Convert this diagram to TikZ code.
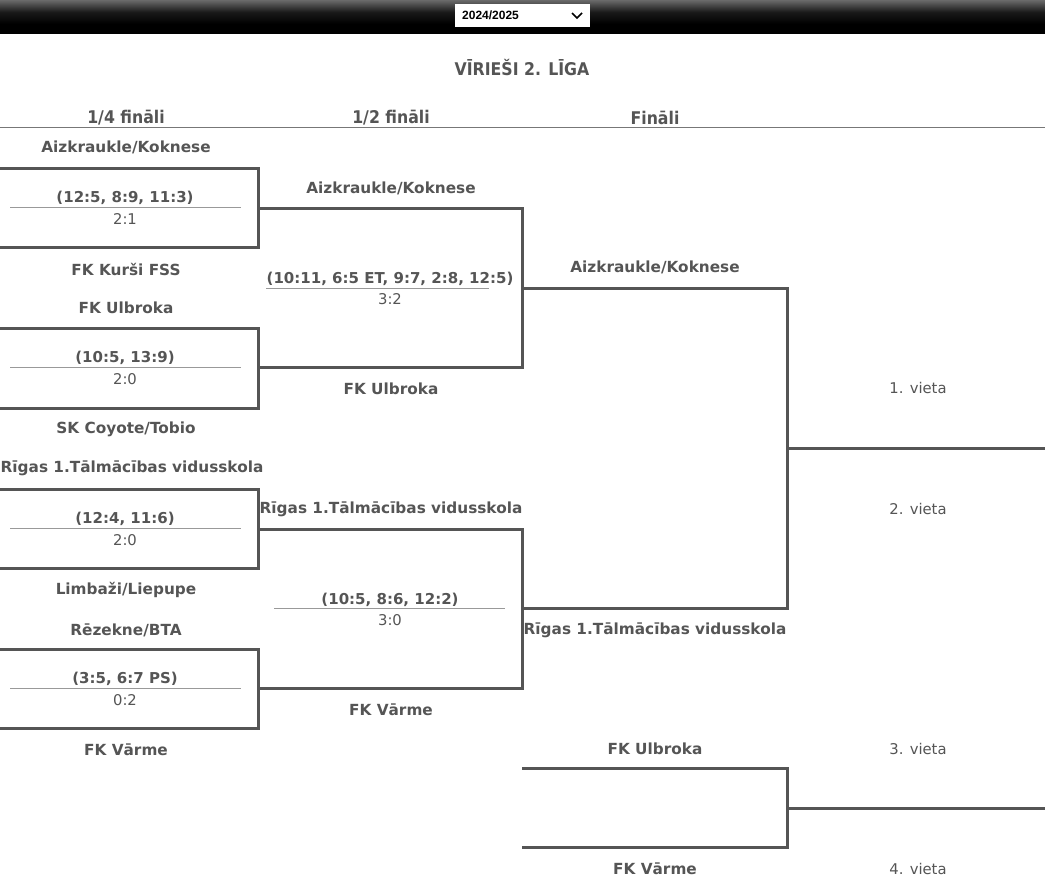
\documentclass[tikz,border=0pt]{standalone}
\usepackage{fontspec}
\setmainfont{DejaVu Sans}
\newfontfamily\condfont{DejaVu Sans Condensed}
\newfontfamily\arialfont{Liberation Sans}
\usetikzlibrary{positioning}
\definecolor{ink}{HTML}{555555}
\definecolor{rule}{HTML}{999999}
\definecolor{bartop}{HTML}{6A6A6A}
\tikzset{
  team/.style={font=\fontsize{15.3}{17}\selectfont\bfseries, text=ink, inner sep=0pt, anchor=center},
  score/.style={font=\fontsize{15}{17}\selectfont\bfseries, text=ink, inner sep=0pt},
  result/.style={font=\fontsize{14.8}{17}\selectfont, text=ink, inner sep=0pt},
  place/.style={font=\fontsize{14.8}{17}\selectfont, text=ink, inner sep=0pt},
  header/.style={font=\condfont\fontsize{17.5}{19}\selectfont\bfseries, text=ink, inner sep=0pt},
  bracket/.style={draw=ink, line width=3pt},
  scoreline/.style={draw=rule, line width=0.9pt},
  divider/.style={draw=ink!80, line width=1pt}
}
\begin{document}
\begin{tikzpicture}[x=1pt,y=-1pt]
\useasboundingbox (0,0) rectangle (1045,886);
\fill[white] (0,0) rectangle (1045,886);
% top bar
\shade[top color=bartop, bottom color=black, middle color=black!90] (0,0) rectangle (1045,24);
\fill[black] (0,23.5) rectangle (1045,34);
\node[fill=white, minimum width=135pt, minimum height=23pt, inner sep=0pt] (sel) at (522.5,15.5) {};
\node[font=\arialfont\fontsize{12}{14}\selectfont\bfseries, anchor=west, inner sep=0pt] (season) at (462,15.5) {2024/2025};
\coordinate (chevA) at (572,13);
\coordinate (chevB) at (577,18);
\coordinate (chevC) at (582,13);
\draw[line width=1.5pt] (chevA) -- (chevB) -- (chevC);

% title and headers
\node[header] (title) at (522,68) {VĪRIEŠI 2. LĪGA};
\node[header] (h1) at (126,118) {1/4 fināli};
\node[header] (h2) at (391,118) {1/2 fināli};
\node[header] (h3) at (655,118) {Fināli};
\coordinate (divL) at (0,127.5);
\coordinate (divR) at (1045,127.5);
\draw[divider] (divL) -- (divR);

% ---------- quarter finals ----------
% QF1
\coordinate (q1a) at (0,168); \coordinate (q1b) at (258,168);
\coordinate (q1c) at (258,247); \coordinate (q1d) at (0,247);
\draw[bracket] (q1a) -- (q1b) -- (q1c) -- (q1d);
\node[team] (q1t) at (126,147) {Aizkraukle/Koknese};
\node[team] (q1u) at (126,269) {FK Kurši FSS};
\node[score] (q1s) at (125,198) {(12:5, 8:9, 11:3)};
\coordinate (q1l) at (10,207.5); \coordinate (q1r) at (241,207.5);
\draw[scoreline] (q1l) -- (q1r);
\node[result] (q1r2) at (125,219.5) {2:1};
% QF2
\coordinate (q2a) at (0,328); \coordinate (q2b) at (258,328);
\coordinate (q2c) at (258,408); \coordinate (q2d) at (0,408);
\draw[bracket] (q2a) -- (q2b) -- (q2c) -- (q2d);
\node[team] (q2t) at (126,308) {FK Ulbroka};
\node[team] (q2u) at (126,429) {SK Coyote/Tobio};
\node[score] (q2s) at (125,358) {(10:5, 13:9)};
\coordinate (q2l) at (10,367.5); \coordinate (q2r) at (241,367.5);
\draw[scoreline] (q2l) -- (q2r);
\node[result] (q2r2) at (125,379.5) {2:0};
% QF3
\coordinate (q3a) at (0,489); \coordinate (q3b) at (258,489);
\coordinate (q3c) at (258,568); \coordinate (q3d) at (0,568);
\draw[bracket] (q3a) -- (q3b) -- (q3c) -- (q3d);
\node[team, anchor=west] (q3t) at (0.5,468) {Rīgas 1.Tālmācības vidusskola};
\node[team] (q3u) at (126,590) {Limbaži/Liepupe};
\node[score] (q3s) at (125,519) {(12:4, 11:6)};
\coordinate (q3l) at (10,528.5); \coordinate (q3r) at (241,528.5);
\draw[scoreline] (q3l) -- (q3r);
\node[result] (q3r2) at (125,540.5) {2:0};
% QF4
\coordinate (q4a) at (0,649); \coordinate (q4b) at (258,649);
\coordinate (q4c) at (258,728); \coordinate (q4d) at (0,728);
\draw[bracket] (q4a) -- (q4b) -- (q4c) -- (q4d);
\node[team] (q4t) at (126,630) {Rēzekne/BTA};
\node[team] (q4u) at (126,750) {FK Vārme};
\node[score] (q4s) at (125,679) {(3:5, 6:7 PS)};
\coordinate (q4l) at (10,688.5); \coordinate (q4r) at (241,688.5);
\draw[scoreline] (q4l) -- (q4r);
\node[result] (q4r2) at (125,700.5) {0:2};

% ---------- semi finals ----------
\coordinate (s1a) at (258,208); \coordinate (s1b) at (522,208);
\coordinate (s1c) at (522,367); \coordinate (s1d) at (258,367);
\draw[bracket] (s1a) -- (s1b) -- (s1c) -- (s1d);
\node[team] (s1t) at (391,188) {Aizkraukle/Koknese};
\node[team] (s1u) at (391,389) {FK Ulbroka};
\node[score] (s1s) at (390,278.5) {(10:11, 6:5 ET, 9:7, 2:8, 12:5)};
\coordinate (s1l) at (266,288.5); \coordinate (s1r) at (489,288.5);
\draw[scoreline] (s1l) -- (s1r);
\node[result] (s1r2) at (390,299) {3:2};

\coordinate (s2a) at (258,529); \coordinate (s2b) at (522,529);
\coordinate (s2c) at (522,688); \coordinate (s2d) at (258,688);
\draw[bracket] (s2a) -- (s2b) -- (s2c) -- (s2d);
\node[team] (s2t) at (391,509) {Rīgas 1.Tālmācības vidusskola};
\node[team] (s2u) at (391,710) {FK Vārme};
\node[score] (s2s) at (390,599.5) {(10:5, 8:6, 12:2)};
\coordinate (s2l) at (274,608.5); \coordinate (s2r) at (505,608.5);
\draw[scoreline] (s2l) -- (s2r);
\node[result] (s2r2) at (390,620) {3:0};

% ---------- final ----------
\coordinate (fa) at (522,288); \coordinate (fb) at (787,288);
\coordinate (fc) at (787,608); \coordinate (fd) at (522,608);
\draw[bracket] (fa) -- (fb) -- (fc) -- (fd);
\coordinate (fo1) at (787,448); \coordinate (fo2) at (1045,448);
\draw[bracket] (fo1) -- (fo2);
\node[team] (ft) at (655,267) {Aizkraukle/Koknese};
\node[team] (fu) at (655,630) {Rīgas 1.Tālmācības vidusskola};
\node[place] (p1) at (918,388) {1. vieta};
\node[place] (p2) at (918,509) {2. vieta};

% ---------- third place ----------
\coordinate (ta) at (522,768); \coordinate (tb) at (787,768);
\coordinate (tc) at (787,847); \coordinate (td) at (522,847);
\draw[bracket] (ta) -- (tb) -- (tc) -- (td);
\coordinate (to1) at (787,808); \coordinate (to2) at (1045,808);
\draw[bracket] (to1) -- (to2);
\node[team] (tt) at (655,749) {FK Ulbroka};
\node[team] (tu) at (655,869) {FK Vārme};
\node[place] (p3) at (918,749) {3. vieta};
\node[place] (p4) at (918,869) {4. vieta};
\end{tikzpicture}
\end{document}
